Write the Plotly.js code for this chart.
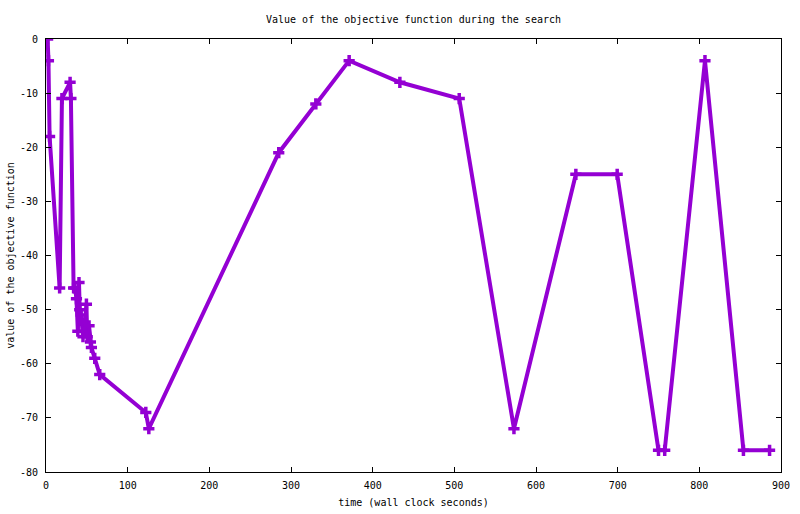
<!DOCTYPE html>
<html>
<head>
<meta charset="utf-8">
<script src="https://cdn.plot.ly/plotly-3.0.1.min.js"></script>
<style>
  html, body { margin: 0; padding: 0; background: #fff; }
  #chart { width: 800px; height: 514px; }
</style>
</head>
<body>
<div id="chart"></div>
<script>
// Time (wall clock seconds) of each evaluation
const times = [2, 3, 4.4, 16.7, 19.5, 29.5, 30.5, 33.8, 35.5, 37.3, 39, 40.4, 41.3, 43, 45.3, 47, 49.5, 50.5, 52.7, 54.4, 55.6, 59.7, 65.8, 122.2, 125.9, 285, 330.4, 371.2, 433.3, 506, 573, 648.8, 699.4, 750, 757.6, 806.9, 854, 886];
// Value of the objective function
const values = [0, -4, -18, -46, -11, -8, -11, -46, -46, -48, -54, -45, -50, -51, -55, -54, -49, -55, -53, -56, -57, -59, -62, -69, -72, -21, -12, -4, -8, -11, -72, -25, -25, -76, -76, -4, -76, -76];

const xTicks = [0, 100, 200, 300, 400, 500, 600, 700, 800, 900];
const yTicks = [0, -10, -20, -30, -40, -50, -60, -70, -80];

const titleText = 'Value of the objective function during the search';
const xTitle = 'time (wall clock seconds)';
const yTitle = 'value of the objective function';

const purple = '#9400D3';
const font = { family: 'DejaVu Sans Mono, monospace', size: 10, color: '#000' };

const trace = {
  x: times,
  y: values,
  type: 'scatter',
  mode: 'lines+markers',
  line: { color: purple, width: 4 },
  marker: { symbol: 'cross-thin', size: 8, color: purple, line: { color: purple, width: 3.5 } },
  hoverinfo: 'x+y',
  showlegend: false
};

const axisCommon = {
  showline: true,
  linecolor: '#000',
  linewidth: 1,
  mirror: 'ticks',
  ticks: 'inside',
  ticklen: 5,
  tickcolor: '#000',
  tickwidth: 1,
  showgrid: false,
  zeroline: false,
  tickfont: font,
  tickmode: 'array'
};

const layout = {
  width: 800,
  height: 514,
  paper_bgcolor: '#fff',
  plot_bgcolor: '#fff',
  font: font,
  margin: { l: 46, r: 19, t: 39, b: 42 },
  title: {
    text: titleText,
    font: font,
    x: 0.5, xref: 'paper',
    y: 1 - 19 / 514, yref: 'container', yanchor: 'middle'
  },
  xaxis: Object.assign({}, axisCommon, {
    range: [0, 900],
    tickvals: xTicks,
    ticktext: xTicks.map(String),
    ticklabelstandoff: 4,
    title: { text: xTitle, font: font, standoff: 8 }
  }),
  yaxis: Object.assign({}, axisCommon, {
    range: [-80, 0],
    tickvals: yTicks,
    ticktext: yTicks.map(String),
    ticklabelstandoff: 5,
    title: { text: yTitle, font: font, standoff: 3 }
  })
};

Plotly.newPlot('chart', [trace], layout, { displayModeBar: false, staticPlot: true });
</script>
</body>
</html>
